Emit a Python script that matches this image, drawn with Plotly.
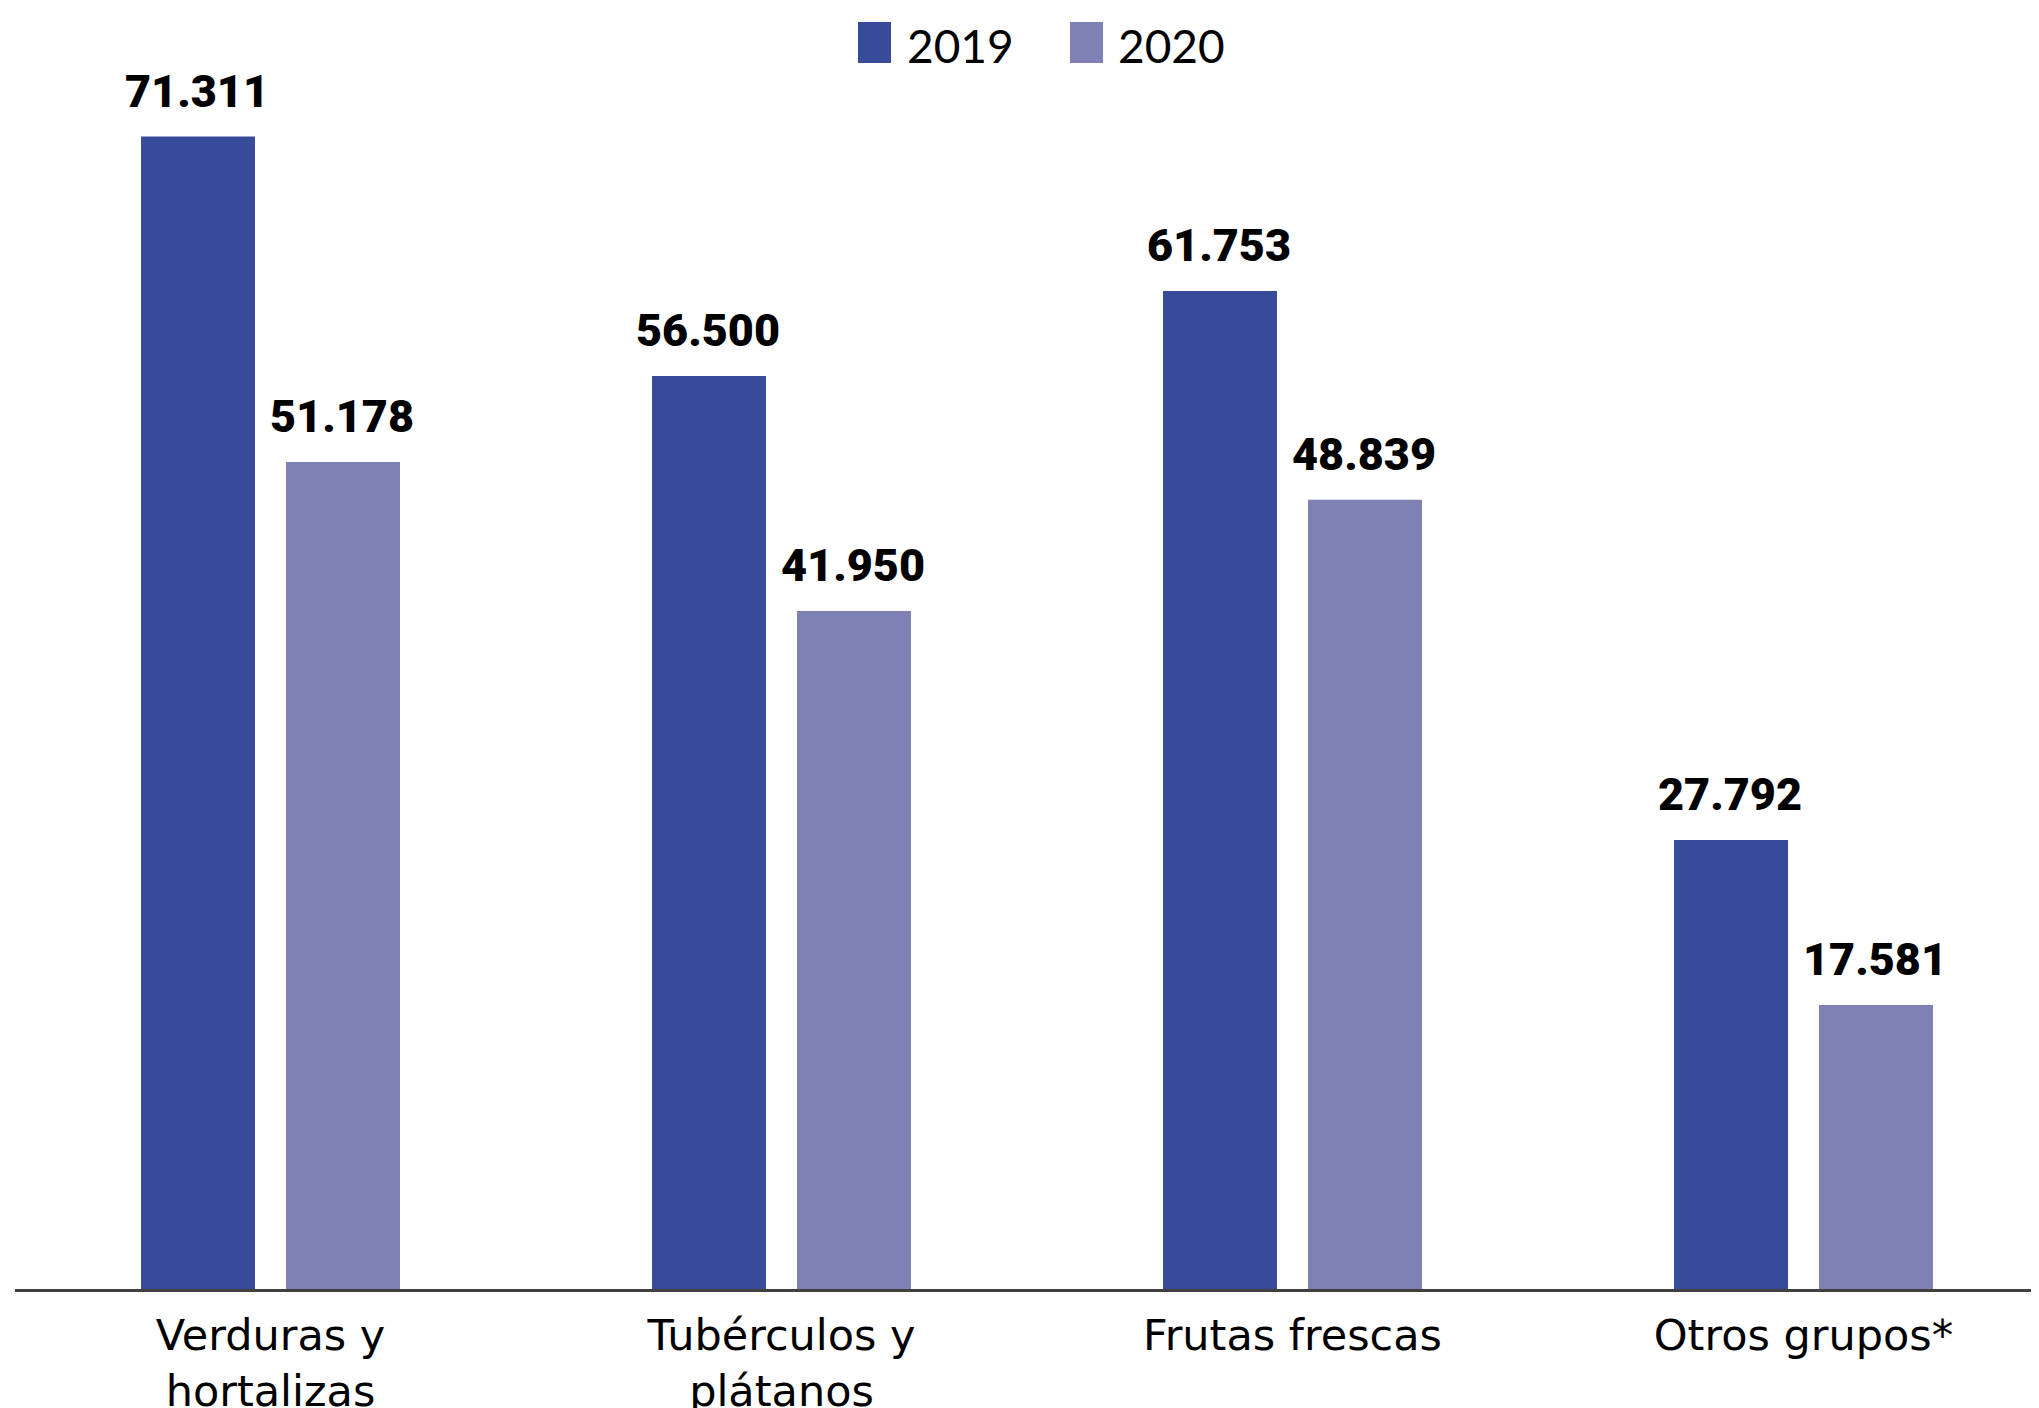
import plotly.graph_objects as go

categories = ["Verduras y<br>hortalizas", "Tubérculos y<br>plátanos", "Frutas frescas", "Otros grupos*"]
series_names = ["2019", "2020"]
values_2019 = [71.311, 56.500, 61.753, 27.792]
values_2020 = [51.178, 41.950, 48.839, 17.581]
colors = ["#384B98", "#7F80B3"]

W, H = 2039, 1408
BODY = 8  # default page body margin
ML, MR, MT = 7, 0, 0
AXIS_Y = 1289 - BODY
MB = H - AXIS_Y
plot_w = W - ML - MR
plot_h = H - MT - MB
px_per_unit = 16.16
ymax = plot_h / px_per_unit
cat_px = 511.0
xmin = -0.5
xmax = xmin + plot_w / cat_px

fig = go.Figure()
for name, vals, col in zip(series_names, [values_2019, values_2020], colors):
    fig.add_trace(go.Bar(x=categories, y=vals, name=name, marker=dict(color=col, line=dict(width=0)),
                         showlegend=False, hoverinfo="x+y"))

annotations = []
shapes = []
offsets = [-72.5, 72.5]
for vals, off in zip([values_2019, values_2020], offsets):
    for c, v in zip(categories, vals):
        annotations.append(dict(x=c, y=v, xref="x", yref="y", text=f"{v:.3f}", showarrow=False,
                                xanchor="center", yanchor="bottom", xshift=off - 1, yshift=17,
                                font=dict(family="Roboto", size=45, color="#000000", weight=900)))

# custom legend (page pixel positions converted to paper coordinates)
def px_to_paper_x(px):
    return (px - BODY - ML) / plot_w

def px_to_paper_y(py):
    return (AXIS_Y - (py - BODY)) / plot_h

leg_sq = [(858, 891), (1070, 1103)]
leg_tx = [905, 1116]
for (x0, x1), tx, name, col in zip(leg_sq, leg_tx, series_names, colors):
    shapes.append(dict(type="rect", xref="paper", yref="paper",
                       x0=px_to_paper_x(x0), x1=px_to_paper_x(x1),
                       y0=px_to_paper_y(63), y1=px_to_paper_y(22),
                       fillcolor=col, line=dict(width=0)))
    annotations.append(dict(x=px_to_paper_x(tx), y=px_to_paper_y(45), xref="paper", yref="paper",
                            text=name, showarrow=False, xanchor="left", yanchor="middle",
                            font=dict(family="Lato", size=46, color="#000000")))

fig.update_layout(
    width=W, height=H,
    margin=dict(l=ML, r=MR, t=MT, b=MB, pad=0, autoexpand=False),
    paper_bgcolor="white", plot_bgcolor="white",
    barmode="group", bargap=0.4325, bargroupgap=0.214,
    annotations=annotations, shapes=shapes,
    xaxis=dict(range=[xmin, xmax], showline=True, linecolor="#404040", linewidth=3,
               showgrid=False, zeroline=False, ticks="", automargin=False,
               tickfont=dict(family="DejaVu Sans", size=43, color="#000000"),
               ticklabelstandoff=6),
    yaxis=dict(range=[0, ymax], visible=False, showgrid=False, zeroline=False, automargin=False),
    font=dict(family="Lato"),
)

fig.write_html("out.html")
